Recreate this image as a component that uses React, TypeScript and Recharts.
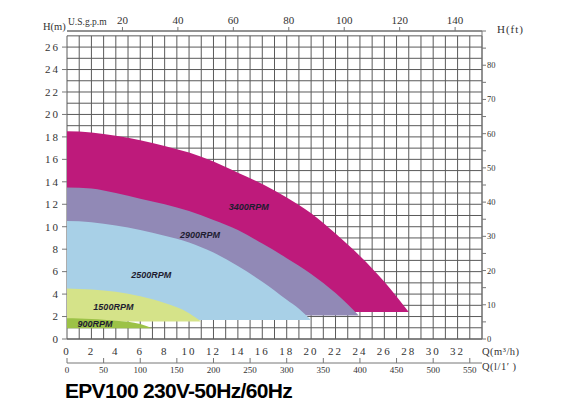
import React from 'react';
import {
  ComposedChart,
  Area,
  Line,
  XAxis,
  YAxis,
  CartesianGrid,
  ReferenceDot,
} from 'recharts';

// Performance bands, Q in m³/h, H in m
const q3400 = [0, 2, 4, 6, 8, 10, 12, 14, 16, 18, 20, 22, 24, 26, 28];
const h3400 = [18.5, 18.4, 18.1, 17.7, 17.2, 16.6, 15.8, 14.8, 13.8, 12.6, 11.2, 9.4, 7.4, 5.1, 2.4];
const q2900 = [0, 2, 4, 6, 8, 10, 12, 14, 16, 18, 20, 22, 23.9];
const h2900 = [13.5, 13.4, 13.0, 12.5, 12.0, 11.4, 10.6, 9.7, 8.5, 7.2, 5.8, 4.1, 2.1];
const q2500 = [0, 2, 4, 6, 8, 10, 12, 14, 16, 18, 19, 20];
const h2500 = [10.5, 10.4, 10.1, 9.7, 9.2, 8.6, 7.7, 6.5, 5.1, 3.5, 2.7, 1.7];
const q1500 = [0, 2, 4, 6, 8, 10, 11];
const h1500 = [4.5, 4.4, 4.2, 3.8, 3.2, 2.3, 1.55];
const q900 = [0, 1, 2, 3, 4, 5, 6, 7];
const h900 = [1.84, 1.82, 1.78, 1.71, 1.63, 1.53, 1.33, 0.95];

// lower edge of each band (m)
const bandBase = [2.4, 2.1, 1.7, 1.55, 0.95];
const rpmNames = ['3400RPM', '2900RPM', '2500RPM', '1500RPM', '900RPM'];
// where the rpm text sits, [Q, H]
const rpmLabelAt = [
  [14.9, 11.8],
  [10.9, 9.25],
  [6.9, 5.75],
  [3.8, 2.87],
  [2.3, 1.33],
];
const bandColors = ['#BE1A7B', '#9189B6', '#A8D0E7', '#D5E389', '#9CC247'];

// axis ticks
const qGrid = Array.from({ length: 35 }, (_, i) => i);
const hGrid = Array.from({ length: 28 }, (_, i) => i);
const gpmTicks = [20, 40, 60, 80, 100, 120, 140];
const lpmTicks = [0, 50, 100, 150, 200, 250, 300, 350, 400, 450, 500, 550];
const ftTicks = [0, 5, 10, 15, 20, 25, 30, 35, 40, 45, 50, 55, 60, 65, 70, 75, 80, 85, 90];

const M3H_TO_GPM = 4.40287;
const M3H_TO_LPM = 50 / 3;
const M_TO_FT = 3.28084;
const Q_MAX = 34;
const FT_MAX = 90;
const H_MAX = FT_MAX / M_TO_FT;
const H_GRID_TOP = 27;

const GRID = '#5a5a5a';
const AXIS = '#777';
const TEXT = '#333';
const SERIF = '"Liberation Serif", "DejaVu Serif", serif';

const bands = rpmNames.map((name, i) => {
  const qs = [q3400, q2900, q2500, q1500, q900][i];
  const hs = [h3400, h2900, h2500, h1500, h900][i];
  return {
    name,
    base: bandBase[i],
    color: bandColors[i],
    at: rpmLabelAt[i],
    data: qs.map((q, j) => ({ q, h: hs[j] })),
  };
});

// the top curve again in the other units, only so the secondary axes have a series
const unitData = bands[0].data.map((d) => ({
  gpm: d.q * M3H_TO_GPM,
  lpm: d.q * M3H_TO_LPM,
  q: d.q,
  h: d.h,
  ft: d.h * M_TO_FT,
}));

const LeftTick = (p: any) => {
  const v = p.payload.value;
  if (v % 2 !== 0 || v > 26) return <g />;
  return (
    <g>
      <line x1={p.x + 2} x2={p.x + 7} y1={p.y} y2={p.y} stroke={AXIS} />
      <text x={p.x} y={p.y} dy="0.35em" textAnchor="end" fontFamily={SERIF} fontSize={11} letterSpacing={2} fill={TEXT}>
        {v}
      </text>
    </g>
  );
};

const LpmTick = (p: any) => (
  <g>
    <line x1={p.x} x2={p.x} y1={p.y - 5} y2={p.y} stroke={AXIS} />
    <text x={p.x} y={p.y + 7} dy="0.35em" textAnchor="middle" fontFamily={SERIF} fontSize={9} fill={TEXT}>
      {p.payload.value}
    </text>
  </g>
);

// vertical grid stops at the top grid row, below the gpm axis
const VerticalLine = (p: any) => {
  const top = p.y2 - (p.y2 - p.y1) * (H_GRID_TOP / H_MAX);
  return <line key={p.index} x1={p.x1} x2={p.x2} y1={top} y2={p.y2} stroke={GRID} strokeWidth={1} />;
};

const App: React.FC = () => {
  return (
    <div style={{ position: 'absolute', left: 0, top: 0, width: 580, height: 409, background: '#fff' }}>
      <ComposedChart width={580} height={409} margin={{ top: 9, right: 48, bottom: 30, left: 0 }}>
        <CartesianGrid stroke={GRID} strokeWidth={1} vertical={VerticalLine} />
        <XAxis
          dataKey="q"
          type="number"
          domain={[0, Q_MAX]}
          ticks={qGrid}
          interval={0}
          height={24}
          tickLine={false}
          tickSize={6}
          tickMargin={2}
          axisLine={{ stroke: GRID }}
          tick={{ fontFamily: SERIF, fontSize: 11, fill: TEXT, letterSpacing: 2 }}
          tickFormatter={(v: number) => (v % 2 === 0 && v <= 32 ? String(v) : '')}
        />
        <XAxis
          xAxisId="lpm"
          dataKey="lpm"
          type="number"
          domain={[0, Q_MAX * M3H_TO_LPM]}
          ticks={lpmTicks}
          interval={0}
          height={16}
          tickLine={false}
          tickSize={0}
          tickMargin={0}
          axisLine={{ stroke: AXIS }}
          tick={LpmTick}
        />
        <XAxis
          xAxisId="gpm"
          dataKey="gpm"
          orientation="top"
          type="number"
          domain={[0, Q_MAX * M3H_TO_GPM]}
          ticks={gpmTicks}
          interval={0}
          height={22}
          tickSize={4}
          tickMargin={3}
          axisLine={{ stroke: AXIS }}
          tickLine={{ stroke: AXIS }}
          tick={{ fontFamily: SERIF, fontSize: 11, fill: TEXT }}
        />
        <YAxis
          type="number"
          domain={[0, H_MAX]}
          ticks={hGrid}
          interval={0}
          width={67}
          tickLine={false}
          tickSize={5}
          tickMargin={2}
          axisLine={false}
          tick={LeftTick}
        />
        <YAxis
          yAxisId="gap"
          orientation="right"
          domain={[0, 1]}
          width={10}
          axisLine={false}
          tickLine={false}
          tick={false}
        />
        <YAxis
          yAxisId="ft"
          dataKey="ft"
          orientation="right"
          type="number"
          domain={[0, FT_MAX]}
          ticks={ftTicks}
          interval={0}
          width={40}
          tickSize={4}
          tickMargin={1}
          axisLine={{ stroke: AXIS }}
          tickLine={{ stroke: AXIS }}
          tick={{ fontFamily: SERIF, fontSize: 8.5, fill: TEXT }}
          tickFormatter={(v: number) => (v % 10 === 0 && v < FT_MAX ? String(v) : '')}
        />
        {bands.map((b) => (
          <Area
            key={b.name}
            data={b.data}
            dataKey={(d: any) => [b.base, d.h]}
            type="monotone"
            stroke="none"
            fill={b.color}
            fillOpacity={1}
            dot={false}
            activeDot={false}
            isAnimationActive={false}
          />
        ))}
        <Line xAxisId="gpm" data={unitData} dataKey="h" stroke="none" dot={false} activeDot={false} isAnimationActive={false} />
        <Line xAxisId="lpm" data={unitData} dataKey="h" stroke="none" dot={false} activeDot={false} isAnimationActive={false} />
        <Line yAxisId="ft" data={unitData} dataKey="ft" stroke="none" dot={false} activeDot={false} isAnimationActive={false} />
        {bands.map((b) => (
          <ReferenceDot
            key={'label-' + b.name}
            x={b.at[0]}
            y={b.at[1]}
            r={0}
            shape={(p: any) => (
              <text
                x={p.cx}
                y={p.cy}
                dy="0.35em"
                textAnchor="middle"
                fontFamily='"Liberation Sans", Arial, sans-serif'
                fontSize={9}
                fontWeight="bold"
                fontStyle="italic"
                fill="#1e1c30"
              >
                {b.name}
              </text>
            )}
          />
        ))}
      </ComposedChart>
      <svg width={580} height={409} style={{ position: 'absolute', left: 0, top: 0, pointerEvents: 'none' }}>
        <text x={43} y={30} fontFamily={SERIF} fontSize={10.5} fill={TEXT}>H(m)</text>
        <text x={68} y={25} fontFamily={SERIF} fontSize={9.5} fill={TEXT}>U.S.g.p.m</text>
        <text x={497} y={32.5} fontFamily={SERIF} fontSize={11} letterSpacing={1} fill={TEXT}>H(ft)</text>
        <text x={482} y={354.5} fontFamily={SERIF} fontSize={10.5} letterSpacing={0.5} fill={TEXT}>Q(m³/h)</text>
        <text x={482} y={369.5} fontFamily={SERIF} fontSize={10.5} letterSpacing={0.5} fill={TEXT}>Q(l/1′ )</text>
        <text
          x={65}
          y={398.3}
          fontFamily='"Liberation Sans", Arial, sans-serif'
          fontSize={21}
          fontWeight="bold"
          letterSpacing={-0.7}
          fill="#000"
        >
          EPV100 230V-50Hz/60Hz
        </text>
      </svg>
    </div>
  );
};

export default App;
